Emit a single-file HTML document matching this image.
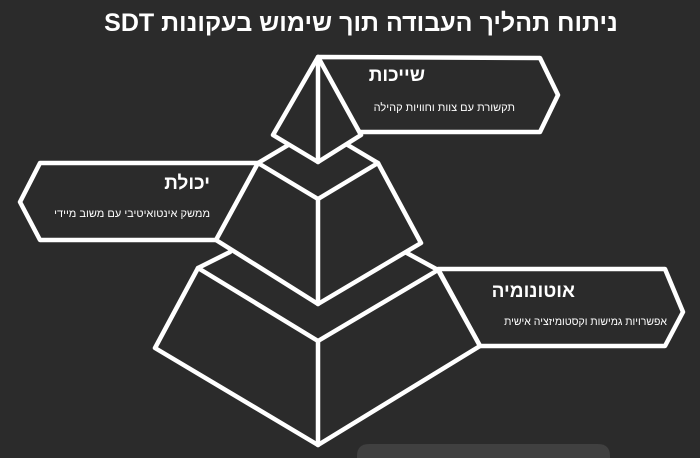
<!DOCTYPE html>
<html><head><meta charset="utf-8"><style>
body{margin:0;width:700px;height:458px;background:#2b2b2b;overflow:hidden;position:relative;font-family:"Liberation Sans","DejaVu Sans",sans-serif;color:#fff}
.t{position:absolute;direction:rtl;white-space:nowrap}
</style></head><body>
<svg width="700" height="458" style="position:absolute;left:0;top:0" fill="none" stroke="#fff" stroke-width="4.5" stroke-linejoin="round" stroke-linecap="round">
<path d="M357,458 V456 Q357,444 369,444 H598 Q610,444 610,456 V458 Z" fill="#404040" stroke="none"/>
<polygon points="318,57 540,58 558,95 540,132 355,132" fill="#2b2b2b"/>
<polygon points="20,202 40,163 258,163 238,240 40,240" fill="#2b2b2b"/>
<polygon points="438,269 665,269 683,312 665,346 480,346" fill="#2b2b2b"/>
<polyline points="258,163 290,144"/>
<polyline points="378,163 346,144"/>
<polyline points="198,268 230,252"/>
<polyline points="438,270 405,252"/>
<polygon points="318,57 273,135 318,162 361,135" fill="#2b2b2b"/>
<line x1="318" y1="57" x2="318" y2="162"/>
<polygon points="258,163 318,199 378,163 421,243 318,304 216,240" fill="#2b2b2b"/>
<line x1="318" y1="199" x2="318" y2="304"/>
<polygon points="198,268 318,341 438,270 480,346 318,445 155,348" fill="#2b2b2b"/>
<line x1="318" y1="341" x2="318" y2="445"/>
</svg>
<div class="t" style="left:0;width:722px;top:9px;text-align:center;font-size:25px;font-weight:bold;direction:rtl">ניתוח תהליך העבודה תוך שימוש בעקונות SDT</div>
<div class="t" style="right:275px;top:65px;font-size:19px;font-weight:bold">שייכות</div>
<div class="t" style="right:185px;top:102px;font-size:11px">תקשורת עם צוות וחוויות קהילה</div>
<div class="t" style="right:490px;top:173px;font-size:19px;font-weight:bold">יכולת</div>
<div class="t" style="right:490px;top:208px;font-size:11px">ממשק אינטואיטיבי עם משוב מיידי</div>
<div class="t" style="right:125px;top:281px;font-size:19px;font-weight:bold">אוטונומיה</div>
<div class="t" style="right:33px;top:316px;font-size:10.5px">אפשרויות גמישות וקסטומיזציה אישית</div>
</body></html>
